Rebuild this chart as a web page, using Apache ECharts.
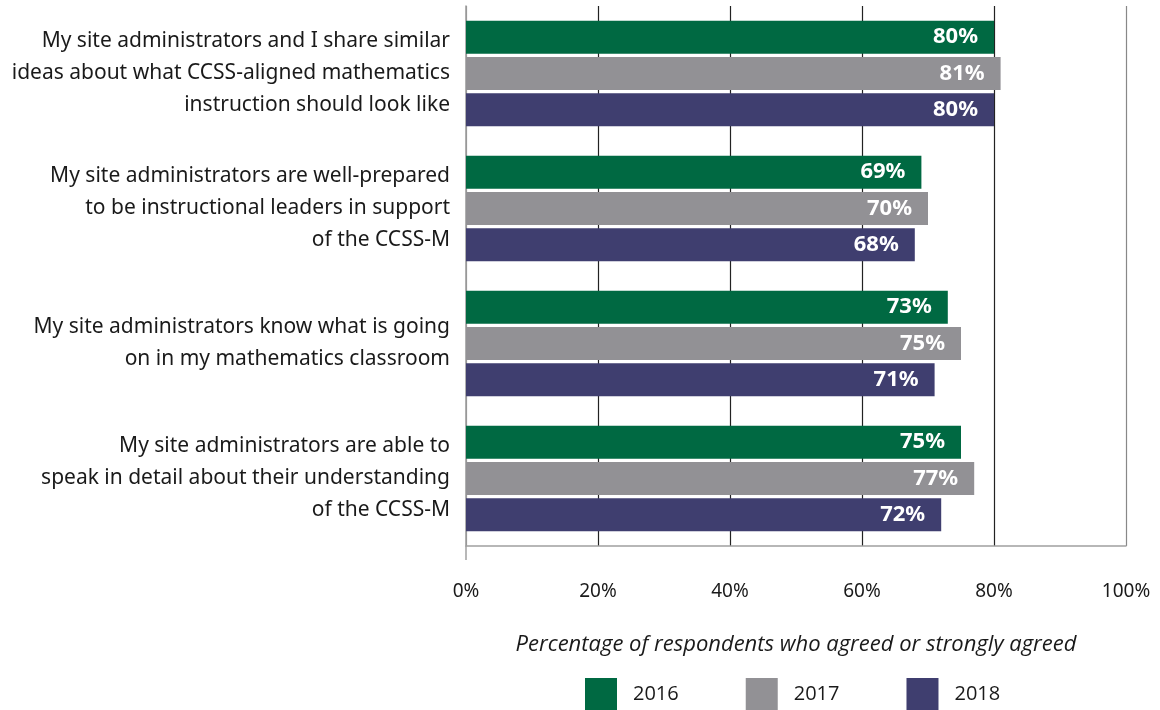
<!DOCTYPE html>
<html>
<head>
<meta charset="utf-8">
<script src="https://cdn.jsdelivr.net/npm/echarts@6/dist/echarts.min.js"></script>
<style>
  html, body { margin: 0; padding: 0; background: #ffffff; }
  #chart { width: 1160px; height: 710px; }
</style>
</head>
<body>
<div id="chart"></div>
<script>
// Survey statements (top to bottom)
const statements = [
  'My site administrators and I share similar\nideas about what CCSS-aligned mathematics\ninstruction should look like',
  'My site administrators are well-prepared\nto be instructional leaders in support\nof the CCSS-M',
  'My site administrators know what is going\non in my mathematics classroom',
  'My site administrators are able to\nspeak in detail about their understanding\nof the CCSS-M'
];

// Share of respondents who agreed or strongly agreed, by year (%)
const years = ['2016', '2017', '2018'];
const values2016 = [80, 69, 73, 75];
const values2017 = [81, 70, 75, 77];
const values2018 = [80, 68, 71, 72];

const axisTitle = 'Percentage of respondents who agreed or strongly agreed';

const colors = ['#006942', '#929195', '#3f3e6f'];
const seriesValues = [values2016, values2017, values2018];

const chart = echarts.init(document.getElementById('chart'));

const series = years.map((year, i) => ({
  name: year,
  type: 'bar',
  data: seriesValues[i],
  barWidth: 33,
  barGap: '10%',
  itemStyle: { color: colors[i] },
  label: {
    show: true,
    position: 'insideRight',
    distance: 16,
    formatter: '{c}%',
    color: '#ffffff',
    fontFamily: 'Noto Sans',
    fontWeight: 'bold',
    fontSize: 22
  }
}));

chart.setOption({
  animation: false,
  backgroundColor: '#ffffff',
  color: colors,
  grid: { left: 466, right: 34, top: 6, bottom: 164, containLabel: false },
  legend: {
    data: years,
    left: 580,
    top: 673,
    itemWidth: 32,
    itemHeight: 32,
    itemGap: 67,
    icon: 'rect',
    textStyle: {
      fontFamily: 'Open Sans',
      fontSize: 20,
      color: '#1a1a1a',
      padding: [0, 0, 0, 11]
    }
  },
  xAxis: [
    {
      type: 'value',
      position: 'bottom',
      min: 0,
      max: 100,
      interval: 20,
      axisLine: { show: true, lineStyle: { color: '#a0a0a0', width: 1.5 } },
      axisTick: { show: false },
      axisLabel: {
        formatter: '{value}%',
        margin: 36,
        fontFamily: 'Noto Sans',
        fontSize: 19,
        color: '#1a1a1a'
      },
      splitLine: {
        show: true,
        lineStyle: {
          color: ['#999999', '#222222', '#222222', '#222222', '#222222', '#888888'],
          width: 1.2
        }
      },
      name: axisTitle,
      nameLocation: 'middle',
      nameGap: 88,
      nameTextStyle: {
        fontFamily: 'Open Sans',
        fontStyle: 'italic',
        fontSize: 22,
        color: '#1a1a1a'
      }
    },
    {
      // short downward extension of the left axis line below the plot
      type: 'value',
      position: 'bottom',
      min: 0,
      max: 100,
      axisLine: { show: false },
      axisLabel: { show: false },
      splitLine: { show: false },
      axisTick: {
        show: true,
        customValues: [0],
        length: 14,
        lineStyle: { color: '#a0a0a0', width: 1.5 }
      }
    }
  ],
  yAxis: {
    type: 'category',
    data: statements,
    inverse: true,
    axisLine: { show: true, lineStyle: { color: '#999999', width: 1.5 } },
    axisTick: { show: false },
    axisLabel: {
      margin: 16,
      align: 'right',
      fontFamily: 'Noto Sans',
      fontSize: 21,
      lineHeight: 32,
      color: '#1a1a1a'
    },
    splitLine: { show: false }
  },
  series: series
});
</script>
</body>
</html>
